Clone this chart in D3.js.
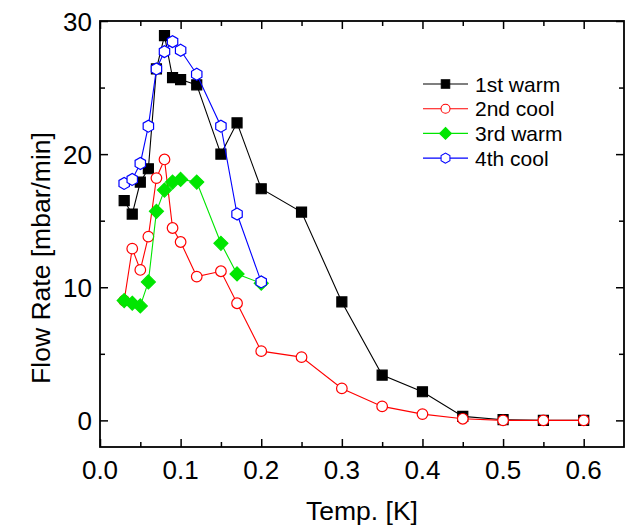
<!DOCTYPE html>
<html>
<head>
<meta charset="utf-8">
<script src="https://cdn.jsdelivr.net/npm/d3@7"></script>
<style>
  html, body { margin: 0; padding: 0; background: #fff; }
  svg { display: block; font-family: "Liberation Sans", Arial, sans-serif; }
</style>
</head>
<body>
<svg id="chart" width="629" height="528"></svg>
<script>
// Temperature points (K) and flow rates (mbar/min) for each run
const temp1 = [0.03, 0.04, 0.05, 0.06, 0.07, 0.08, 0.09, 0.10, 0.12, 0.15, 0.17, 0.20, 0.25, 0.30, 0.35, 0.40, 0.45, 0.50, 0.55, 0.60];
const warm1 = [16.5, 15.5, 17.9, 18.9, 26.4, 28.9, 25.75, 25.6, 25.2, 20.0, 22.35, 17.4, 15.65, 8.9, 3.4, 2.15, 0.3, 0.05, 0.0, 0.0];

const temp2 = [0.03, 0.04, 0.05, 0.06, 0.07, 0.08, 0.09, 0.10, 0.12, 0.15, 0.17, 0.20, 0.25, 0.30, 0.35, 0.40, 0.45, 0.50, 0.55, 0.60];
const cool2 = [9.0, 12.9, 11.3, 13.8, 18.2, 19.6, 14.45, 13.4, 10.8, 11.2, 8.8, 5.2, 4.75, 2.4, 1.05, 0.47, 0.12, 0.0, 0.0, 0.0];

const temp3 = [0.03, 0.04, 0.05, 0.06, 0.07, 0.08, 0.09, 0.10, 0.12, 0.15, 0.17, 0.20];
const warm3 = [9.0, 8.8, 8.6, 10.4, 15.7, 17.3, 17.9, 18.1, 17.9, 13.3, 11.0, 10.3];

const temp4 = [0.03, 0.04, 0.05, 0.06, 0.07, 0.08, 0.09, 0.10, 0.12, 0.15, 0.17, 0.20];
const cool4 = [17.8, 18.1, 19.3, 22.1, 26.4, 27.7, 28.45, 27.8, 26.0, 22.1, 15.5, 10.4];

const seriesNames = ["1st warm", "2nd cool", "3rd warm", "4th cool"];
const xTicks = [0.0, 0.1, 0.2, 0.3, 0.4, 0.5, 0.6];
const xMinor = [0.05, 0.15, 0.25, 0.35, 0.45, 0.55];
const yTicks = [0, 10, 20, 30];
const yMinor = [5, 15, 25];

const series = [
  { name: seriesNames[0], xs: temp1, ys: warm1, color: "#000000", shape: "square" },
  { name: seriesNames[1], xs: temp2, ys: cool2, color: "#ff0000", shape: "circle" },
  { name: seriesNames[2], xs: temp3, ys: warm3, color: "#00e600", shape: "diamond" },
  { name: seriesNames[3], xs: temp4, ys: cool4, color: "#0000ff", shape: "hexagon" }
];

const svg = d3.select("#chart");
const pLeft = 100, pRight = 624, pTop = 21, pBottom = 447;

const x = d3.scaleLinear().domain([0, 0.65]).range([pLeft, pRight]);
const y = d3.scaleLinear().domain([-2, 30]).range([pBottom, pTop]);

// Marker path generators centred at origin
function markerPath(shape) {
  switch (shape) {
    case "square": return "M-5,-5H5V5H-5Z";
    case "circle": return d3.arc()({ innerRadius: 0, outerRadius: 5.3, startAngle: 0, endAngle: 2 * Math.PI });
    case "diamond": return "M0,-7L7,0L0,7L-7,0Z";
    case "hexagon": {
      const r = 6;
      const pts = d3.range(6).map(i => {
        const a = Math.PI / 2 + i * Math.PI / 3;
        return [r * Math.cos(a), r * Math.sin(a)];
      });
      return "M" + pts.map(p => p.join(",")).join("L") + "Z";
    }
  }
}
function markerFill(s) {
  return (s.shape === "square" || s.shape === "diamond") ? s.color : "#fff";
}

// Axes: ticks point inward on all four sides, with minor ticks between majors
const gAxes = svg.append("g");
function addTicks(axisGen, pos, vals, size) {
  gAxes.append("g").attr("transform", pos)
    .call(axisGen.tickValues(vals).tickSize(size).tickFormat(""));
}
addTicks(d3.axisTop(x), `translate(0,${pBottom})`, xTicks, 8);
addTicks(d3.axisTop(x), `translate(0,${pBottom})`, xMinor, 5);
addTicks(d3.axisBottom(x), `translate(0,${pTop})`, xTicks, 8);
addTicks(d3.axisBottom(x), `translate(0,${pTop})`, xMinor, 5);
addTicks(d3.axisRight(y), `translate(${pLeft},0)`, yTicks, 8);
addTicks(d3.axisRight(y), `translate(${pLeft},0)`, yMinor, 5);
addTicks(d3.axisLeft(y), `translate(${pRight},0)`, yTicks, 8);
addTicks(d3.axisLeft(y), `translate(${pRight},0)`, yMinor, 5);
gAxes.selectAll(".domain").remove();
gAxes.selectAll(".tick line").attr("stroke", "#000").attr("stroke-width", 1.5);

// Frame
svg.append("rect")
  .attr("x", pLeft).attr("y", pTop)
  .attr("width", pRight - pLeft).attr("height", pBottom - pTop)
  .attr("fill", "none").attr("stroke", "#000").attr("stroke-width", 1.8);

// Tick labels
svg.append("g").selectAll("text").data(xTicks).join("text")
  .attr("x", d => x(d)).attr("y", pBottom + 32)
  .attr("text-anchor", "middle")
  .attr("font-size", 26)
  .text(d => d3.format(".1f")(d));
svg.append("g").selectAll("text").data(yTicks).join("text")
  .attr("x", pLeft - 8).attr("y", d => y(d) + 9.5)
  .attr("text-anchor", "end")
  .attr("font-size", 26)
  .text(d => d);

// Axis titles
svg.append("text")
  .attr("x", (pLeft + pRight) / 2).attr("y", 520)
  .attr("text-anchor", "middle").attr("font-size", 26.5)
  .text("Temp. [K]");
svg.append("text")
  .attr("transform", `translate(50,${(pTop + pBottom) / 2 + 24}) rotate(-90)`)
  .attr("text-anchor", "middle").attr("font-size", 26.5)
  .text("Flow Rate [mbar/min]");

// Series lines and markers
const line = d3.line().x(d => x(d[0])).y(d => y(d[1]));
series.forEach(s => {
  const pts = s.xs.map((v, i) => [v, s.ys[i]]);
  const g = svg.append("g");
  g.append("path").attr("d", line(pts))
    .attr("fill", "none").attr("stroke", s.color).attr("stroke-width", 1.1);
  g.selectAll("path.m").data(pts).join("path").attr("class", "m")
    .attr("transform", d => `translate(${x(d[0])},${y(d[1])})`)
    .attr("d", markerPath(s.shape))
    .attr("fill", markerFill(s))
    .attr("stroke", s.color).attr("stroke-width", 1.2);
});

// Legend
const legend = svg.append("g");
series.forEach((s, i) => {
  const ly = 84 + i * 24.7;
  legend.append("line")
    .attr("x1", 423).attr("x2", 468).attr("y1", ly).attr("y2", ly)
    .attr("stroke", s.color).attr("stroke-width", 1.1);
  legend.append("path")
    .attr("transform", `translate(445.5,${ly}) scale(0.85)`)
    .attr("d", markerPath(s.shape))
    .attr("fill", markerFill(s))
    .attr("stroke", s.color).attr("stroke-width", 1.2);
  legend.append("text")
    .attr("x", 475).attr("y", ly + 7.5)
    .attr("font-size", 21)
    .text(s.name);
});
</script>
</body>
</html>
